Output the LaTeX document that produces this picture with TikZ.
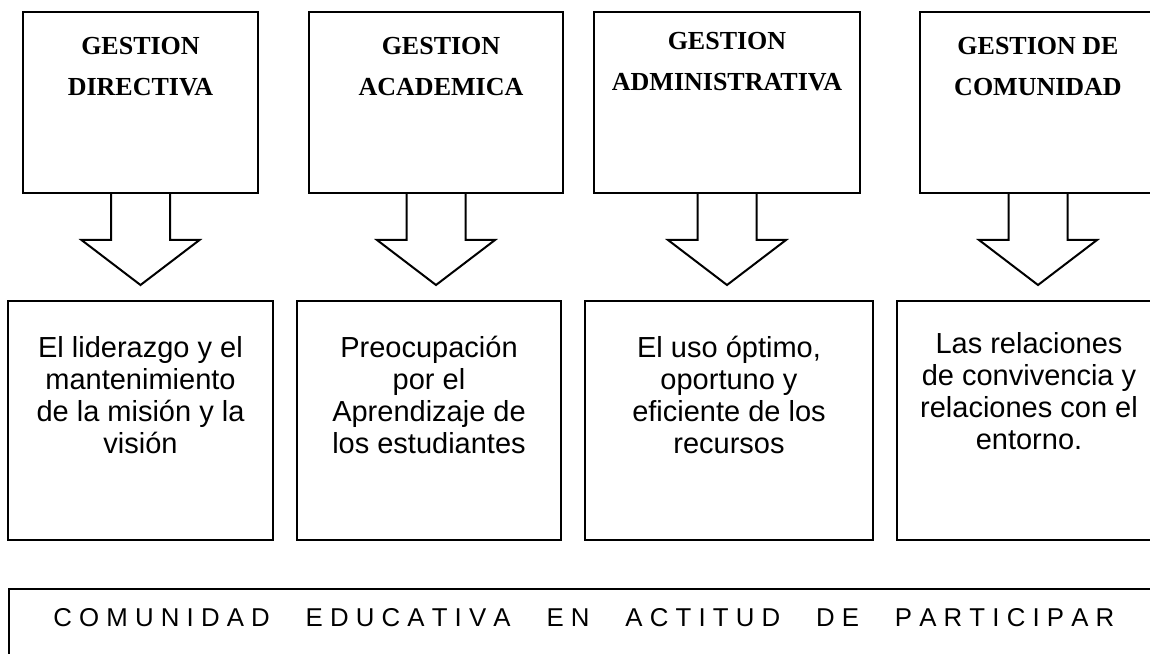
\documentclass[tikz,border=0pt]{standalone}
\usepackage{fontspec}
\setmainfont{Liberation Serif}
\setsansfont{Liberation Sans}
\usetikzlibrary{positioning}
\newcommand{\wgap}{\hspace{1.39em}}

\begin{document}
\begin{tikzpicture}[x=0.5pt, y=0.5pt,
    box/.style={draw, line width=1pt, inner sep=0pt},
    topbox/.style={box, minimum height=90.5pt},
    lowbox/.style={box, minimum height=119.5pt},
    title/.style={font=\bfseries\fontsize{13}{20.5}\selectfont, align=center, inner sep=0pt, anchor=north},
    body/.style={font=\sffamily\fontsize{14.5}{16}\selectfont, align=center, inner sep=0pt, anchor=north}]
    \useasboundingbox (0,0) rectangle (1150,653);

    % Gestion boxes
    \node[topbox, minimum width=117.5pt] (t1) at (140.5,550.5) {};
    \node[topbox, minimum width=127pt] (t2) at (436,550.5) {};
    \node[topbox, minimum width=133pt] (t3) at (727,550.5) {};
    \node[topbox, minimum width=118pt] (t4) at (1038,550.5) {};

    \node[title] (h1) at ([yshift=-13pt]t1.north) {GESTION\\DIRECTIVA};
    \node[title] (h2) at ([xshift=2.5pt, yshift=-13pt]t2.north) {GESTION\\ACADEMICA};
    \node[title] (h3) at ([yshift=-10.5pt]t3.north) {GESTION\\ADMINISTRATIVA};
    \node[title] (h4) at ([yshift=-13pt]t4.north) {GESTION DE\\COMUNIDAD};

    % Block arrows
    \foreach \n in {1,...,4} {
        \draw[line width=1pt] (t\n.south) ++(-29.5,0) -- ++(0,-46) -- ++(-29.5,0)
            -- ++(59,-45) -- ++(59,45) -- ++(-29.5,0) -- ++(0,46);
    }

    % Descriptions
    \node[lowbox, minimum width=132.5pt] (b1) at (140.5,232.5) {};
    \node[lowbox, minimum width=132pt] (b2) at (429,232.5) {};
    \node[lowbox, minimum width=144pt] (b3) at (729,232.5) {};
    \node[lowbox, minimum width=132pt] (b4) at (1029,232.5) {};

    \node[body] (d1) at ([yshift=-18pt]b1.north) {El liderazgo y el\\mantenimiento\\de la misión y la\\visión};
    \node[body] (d2) at ([yshift=-18pt]b2.north) {Preocupación\\por el\\Aprendizaje de\\los estudiantes};
    \node[body] (d3) at ([yshift=-18pt]b3.north) {El uso óptimo,\\oportuno y\\eficiente de los\\recursos};
    \node[body] (d4) at ([yshift=-16pt]b4.north) {Las relaciones\\de convivencia y\\relaciones con el\\entorno.};

    % Bottom band
    \node[box, minimum width=575.5pt, minimum height=37pt] (pie) at (584.5,27) {};
    \node[anchor=base west, inner sep=0pt, font=\sffamily\fontsize{12.9}{16}\selectfont] (lema) at (53,27)
        {C O M U N I D A D\wgap E D U C A T I V A\wgap E N\wgap A C T I T U D\wgap D E\wgap P A R T I C I P A R};
\end{tikzpicture}
\end{document}
